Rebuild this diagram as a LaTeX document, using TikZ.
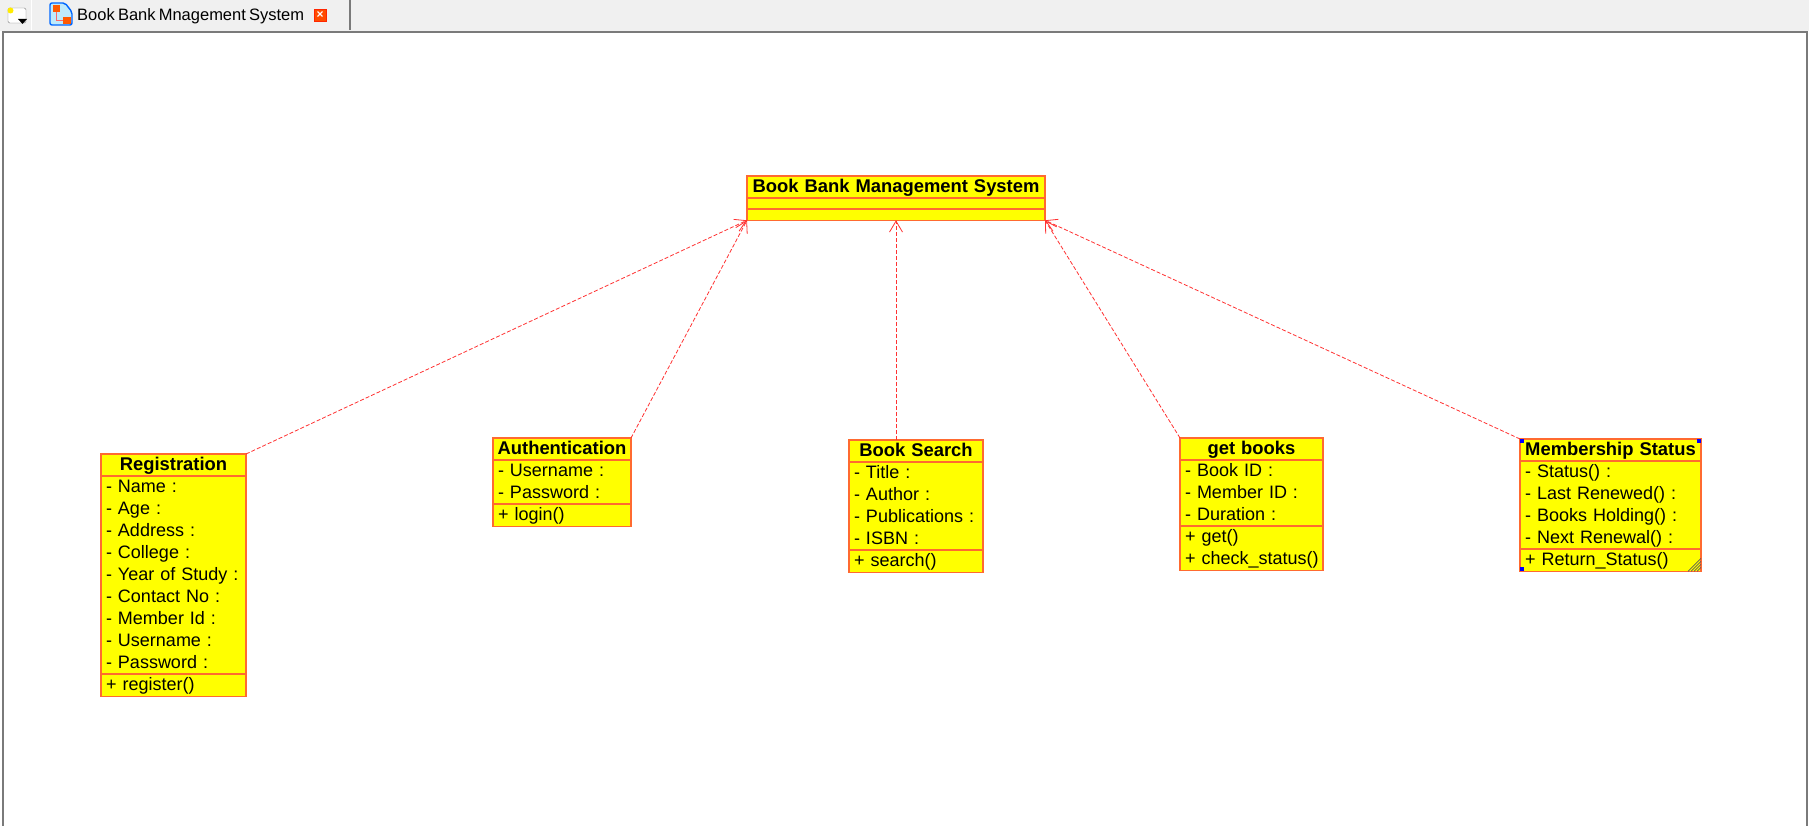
\documentclass[tikz,border=0pt]{standalone}
\usepackage{fontspec}
\setmainfont[WordSpace=0.7]{Liberation Sans}
\usetikzlibrary{shapes.multipart,arrows.meta}
\definecolor{boxfill}{RGB}{255,255,0}
\definecolor{boxline}{RGB}{255,106,48}
\definecolor{depline}{RGB}{255,50,50}
\definecolor{barfill}{RGB}{240,240,240}
\definecolor{frameline}{RGB}{122,122,122}
\definecolor{handle}{RGB}{0,0,255}
\newcommand{\rowstrut}{\rule[-5.5pt]{0pt}{22pt}}
\newcommand{\lastrow}[1]{\mbox{\rowstrut #1}}
\newcommand{\rowline}[1]{\lastrow{#1}\\}
\newcommand{\classtitle}[1]{\makebox[\linewidth][c]{\bfseries\fontsize{18.4}{22}\selectfont\rowstrut #1}}
\tikzset{
    umlclass/.style={rectangle split, rectangle split parts=3, draw=boxline, line width=1.5pt,
        fill=boxfill, anchor=north west, outer sep=0pt, inner xsep=5pt, inner ysep=-0.7pt,
        text width=#1-10pt, align=left, font=\fontsize{18}{22}\selectfont},
    dep/.style={draw=depline, line width=0.8pt, dash pattern=on 4pt off 2pt,
        -{Straight Barb[length=11pt,width=13pt]}},
    tabtext/.style={anchor=base west, inner sep=0pt, font=\fontsize{16.5}{20}\selectfont},
}

\begin{document}
\begin{tikzpicture}[x=1pt,y=-1pt]
        \useasboundingbox (0,0) rectangle (1809,826);
        % tab bar and canvas
        \fill[barfill] (0,0) rectangle (1809,31);
        \fill[white] (3,32) rectangle (1807,826);
        \draw[white, line width=1pt] (31.5,0) -- (31.5,30);
        \draw[frameline, line width=1.6pt] (350,0) -- (350,30);
        \draw[frameline, line width=2pt] (3,826) -- (3,32) -- (1807,32) -- (1807,826);
        % new diagram icon
        \draw[gray, fill=white, rounded corners=1.5pt] (8,8) rectangle (26,23);
        \fill[boxfill!85!orange] (10.5,10.5) circle (3pt);
        \fill[black] (18,19) -- (27,19) -- (22.5,24) -- cycle;
        % tab icon
        \draw[blue!60!cyan, fill=cyan!25, line width=1.4pt, rounded corners=2pt]
            (50,3) -- (65,3) -- (72,12) -- (72,25) -- (50,25) -- cycle;
        \fill[orange!70!red] (53,5) rectangle (60,12);
        \fill[orange!70!red] (63,17) rectangle (71,24);
        \draw[red!60] (56,12) -- (56,20) -- (63,20);
        \node[tabtext] (tabname) at (77,21) {Book Bank Mnagement System};
        % close button
        \node[draw=red!70!orange, fill=orange!60!red, line width=1pt, minimum size=12pt, inner sep=0pt,
            text=white, font=\bfseries\fontsize{12}{12}\selectfont] (tabclose) at (320,15.5) {×};

        % classes
        \node[umlclass=298pt] (system) at (747,176) {
            \classtitle{Book Bank Management System}
            \nodepart{two}\rule{0pt}{11pt}
            \nodepart{three}\rule{0pt}{11pt}};
        \node[umlclass=145pt] (registration) at (101,454) {
            \classtitle{Registration}
            \nodepart{two}
            \rowline{- Name :}\rowline{- Age :}\rowline{- Address :}\rowline{- College :}
            \rowline{- Year of Study :}\rowline{- Contact No :}\rowline{- Member Id :}
            \rowline{- Username :}\lastrow{- Password :}
            \nodepart{three}\lastrow{+ register()}};
        \node[umlclass=138pt] (authentication) at (493,438) {
            \classtitle{Authentication}
            \nodepart{two}
            \rowline{- Username :}\lastrow{- Password :}
            \nodepart{three}\lastrow{+ login()}};
        \node[umlclass=134pt] (booksearch) at (849,440) {
            \classtitle{Book Search}
            \nodepart{two}
            \rowline{- Title :}\rowline{- Author :}\rowline{- Publications :}\lastrow{- ISBN :}
            \nodepart{three}\lastrow{+ search()}};
        \node[umlclass=143pt] (getbooks) at (1180,438) {
            \classtitle{get books}
            \nodepart{two}
            \rowline{- Book ID :}\rowline{- Member ID :}\lastrow{- Duration :}
            \nodepart{three}
            \rowline{+ get()}\lastrow{+ check\_status()}};
        \node[umlclass=181pt] (membership) at (1520,439) {
            \classtitle{Membership Status}
            \nodepart{two}
            \rowline{- Status() :}\rowline{- Last Renewed() :}\rowline{- Books Holding() :}
            \lastrow{- Next Renewal() :}
            \nodepart{three}\lastrow{+ Return\_Status()}};

        % dependencies
        \draw[dep] (registration.north east) -- (system.south west);
        \draw[dep] (authentication.north east) -- (system.south west);
        \draw[dep] (system.south |- booksearch.north) -- (system.south);
        \draw[dep] (getbooks.north west) -- (system.south east);
        \draw[dep] (membership.north west) -- (system.south east);

        % selection handles
        \fill[handle] (membership.north west) rectangle +(4,4);
        \fill[handle] (membership.north east) rectangle +(-4,4);
        \fill[handle] (membership.south west) rectangle +(4,-4);
        \foreach \d in {4,7,10,13}
            \draw[gray!70!black, line width=0.6pt] ([xshift=-\d pt]membership.south east) -- ([yshift=\d pt]membership.south east);
    \end{tikzpicture}
\end{document}
